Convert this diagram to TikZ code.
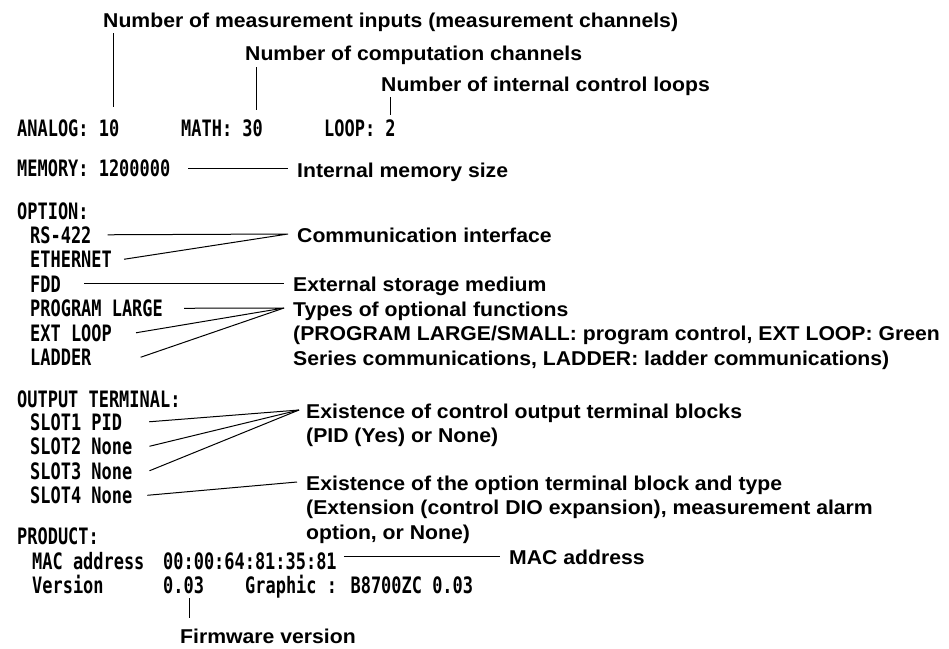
\documentclass[tikz,border=0pt]{standalone}
\usepackage{fontspec}
\newfontfamily\lblfont{Liberation Sans Bold}[FakeStretch=1.06]
\newfontfamily\scrfont{DejaVu Sans Mono Bold}[FakeStretch=0.75]
\usetikzlibrary{positioning,calc}

\tikzset{
  scr/.style={anchor=base west, inner sep=0pt, font=\scrfont\fontsize{22.6}{24.5}\selectfont},
  lbl/.style={anchor=base west, inner sep=0pt, align=left, font=\lblfont\fontsize{20}{24.5}\selectfont},
  lead/.style={line width=1pt},
}

\begin{document}
\begin{tikzpicture}[x=1pt,y=-1pt]
\useasboundingbox (0,0) rectangle (949,648);
% screen listing
\node[scr] (analog) at (17,136.5) {ANALOG: 10};
\node[scr] (math) at (181,136.5) {MATH: 30};
\node[scr] (loop) at (324,136.5) {LOOP: 2};
\node[scr] (memory) at (17,176.5) {MEMORY: 1200000};
\node[scr] (option) at (17,219.5) {OPTION:};
\foreach \n/\t/\y in {rs/RS-422/243, ether/ETHERNET/267.5, fdd/FDD/292,
    prog/PROGRAM LARGE/316.5, extloop/EXT LOOP/341, ladder/LADDER/365.5} {
  \node[scr] (\n) at (30,\y) {\t};
}
\node[scr] (outterm) at (17,407) {OUTPUT TERMINAL:};
\foreach \i/\v/\y in {1/PID/430, 2/None/454.5, 3/None/479, 4/None/503.5} {
  \node[scr] (slot\i) at (30,\y) {SLOT\i\ \v};
}
\node[scr] (product) at (17,544) {PRODUCT:};
\node[scr] (mackey) at (32,569) {MAC address};
\node[scr] (macval) at (163,569) {00:00:64:81:35:81};
\node[scr] (verkey) at (32,593.5) {Version};
\node[scr] (verval) at (163,593.5) {0.03};
\node[scr] (graphic) at (245,593.5) {Graphic : B8700ZC 0.03};

% explanations
\node[lbl] (lmeas) at (103,27.5) {Number of measurement inputs (measurement channels)};
\node[lbl] (lcomp) at (245,60) {Number of computation channels};
\node[lbl] (lloop) at (381,91) {Number of internal control loops};
\node[lbl] (lmem) at (297,177) {Internal memory size};
\node[lbl] (lcomm) at (297,242.5) {Communication interface};
\node[lbl] (lfdd) at (293,291) {External storage medium};
\node[lbl] (ltypes) at (293,365) {Types of optional functions\\(PROGRAM LARGE/SMALL: program control, EXT LOOP: Green\\Series communications, LADDER: ladder communications)};
\node[lbl] (lctrl) at (306,442.5) {Existence of control output terminal blocks\\(PID (Yes) or None)};
\node[lbl] (lopt) at (306,539) {Existence of the option terminal block and type\\(Extension (control DIO expansion), measurement alarm\\option, or None)};
\node[lbl] (lmac) at (509,564) {MAC address};
\node[lbl] (lfw) at (180,643) {Firmware version};

\coordinate (comm) at (288,234);
\coordinate (types) at (284,308);
\coordinate (ctrl) at (299,410);
\coordinate (opt) at (297,482);

% leader lines
\draw[lead] ([xshift=-6,yshift=-1.5]lmeas.south -| analog.east) -- ([xshift=-6,yshift=13]analog.north east);
\draw[lead] ([xshift=-7,yshift=-3]lcomp.south -| math.east) -- ([xshift=-7,yshift=10]math.north east);
\draw[lead] ([xshift=-5,yshift=-2]lloop.south -| loop.east) -- ([xshift=-5,yshift=5]loop.north east);
\draw[lead] ([xshift=18]memory.east) -- ([xshift=-9]lmem.west |- memory.east);
\draw[lead] ([xshift=16]rs.east) -- (comm) -- ([xshift=12]ether.east);
\draw[lead] ([xshift=23]fdd.east) -- ([xshift=-9]lfdd.west |- fdd.east);
\draw[lead] ([xshift=21]prog.east) -- (types) -- ([xshift=24]extloop.east);
\draw[lead] (types) -- ([xshift=49]ladder.east);
\foreach \i/\d in {1/27,2/17,3/17} {
  \draw[lead] ([xshift=\d]slot\i.east) -- (ctrl);
}
\draw[lead] ([xshift=15]slot4.east) -- (opt);
\draw[lead] ([xshift=7]macval.east |- lmac.west) -- ([xshift=-9]lmac.west);
\draw[lead] ([xshift=6,yshift=-4]verval.south) -- ([xshift=6,yshift=10]verval.south |- lfw.north);
\end{tikzpicture}
\end{document}
